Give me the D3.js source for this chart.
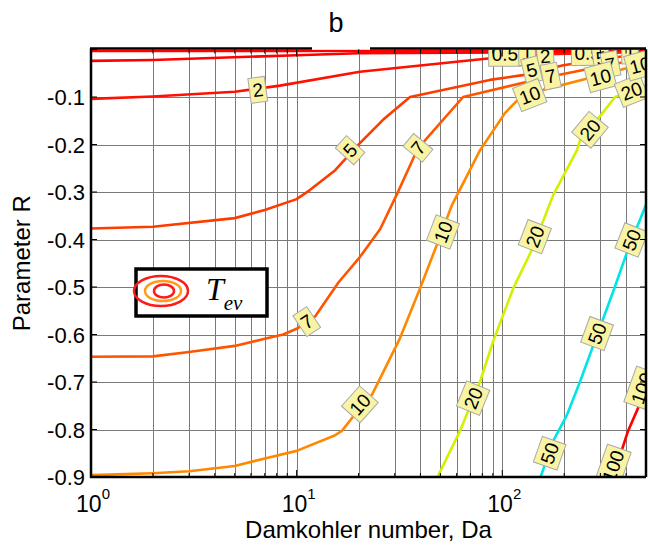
<!DOCTYPE html>
<html>
<head>
<meta charset="utf-8">
<script src="https://cdn.jsdelivr.net/npm/d3@7"></script>
<style>
  body { margin: 0; background: #fff; }
  svg { display: block; font-family: "Liberation Sans", Arial, sans-serif; }
</style>
</head>
<body>
<div id="chart"></div>
<script>
const width = 648
const height = 549

// contour levels of T_ev and their line colours
const levels = [0.5, 1, 2, 5, 7, 10, 20, 50, 100]
const levelColors = ["#ff0000", "#ff0000", "#ff1000", "#ff3c00", "#ff5500", "#ff8800", "#d4f000", "#00e5e5", "#ff0000"]

// contour paths, [Da, R]
const c05 = [[1, -0.003], [10, -0.003], [100, -0.002], [500, -0.001]]
const c1 = [[1, -0.024], [2, -0.022], [10, -0.012], [20, -0.008], [100, -0.006], [500, -0.004]]
const c2 = [[1, -0.104], [2, -0.099], [5, -0.089], [8.3, -0.076], [20.3, -0.047], [90, -0.018], [162, -0.010], [500, -0.005]]
const c5 = [[1, -0.377], [2, -0.373], [5, -0.355], [7, -0.338], [10, -0.315], [11.6, -0.296], [15.4, -0.254], [20.3, -0.197],
  [26.3, -0.148], [35.6, -0.100], [87, -0.064], [126, -0.054], [198, -0.033], [419, -0.012], [500, -0.010]]
const c7 = [[1, -0.647], [2, -0.646], [3, -0.637], [5, -0.624], [7, -0.609], [8.6, -0.600], [10, -0.588], [12.3, -0.562],
  [16, -0.49], [20.3, -0.437], [25.5, -0.378], [30.8, -0.304], [38.5, -0.212], [42.2, -0.191], [64.5, -0.100],
  [158, -0.060], [277, -0.039], [500, -0.018]]
const c10 = [[1, -0.896], [2, -0.892], [3, -0.888], [5, -0.877], [7, -0.861], [10, -0.845], [15.4, -0.812], [16.6, -0.803],
  [20.3, -0.755], [23.3, -0.726], [25.5, -0.692], [31.8, -0.608], [39.8, -0.503], [48.7, -0.405], [57, -0.327],
  [78, -0.212], [103, -0.134], [119, -0.106], [158, -0.085], [277, -0.058], [374, -0.043], [500, -0.028]]
const c20 = [[48.2, -0.902], [62.3, -0.803], [69.7, -0.751], [78, -0.699], [90.2, -0.615], [113, -0.503], [140, -0.420],
  [177, -0.306], [231, -0.212], [239, -0.191], [289, -0.148], [354, -0.100], [433, -0.085], [500, -0.075]]
const c50 = [[153, -0.902], [177, -0.824], [207, -0.768], [239, -0.699], [267, -0.642], [346, -0.510], [405, -0.426], [506, -0.321]]
const c100 = [[342, -0.902], [383, -0.841], [409, -0.803], [468, -0.745], [510, -0.700]]
const contours = [c05, c1, c2, c5, c7, c10, c20, c50, c100]

// inline contour labels, [level, Da, R]
const labels = [
  [2, 6.47, -0.085], [5, 18.2, -0.212], [7, 11.2, -0.573], [7, 38.9, -0.207],
  [10, 20.3, -0.747], [10, 51.5, -0.384], [20, 72.1, -0.734], [20, 144, -0.394],
  [50, 170, -0.850], [50, 289, -0.598], [50, 425, -0.401], [100, 346, -0.877], [100, 478, -0.713],
  [0.5, 103, -0.009], [1, 132, -0.007], [2, 162, -0.014], [5, 139, -0.043], [7, 172, -0.056],
  [10, 136, -0.096], [20, 267, -0.169], [0.5, 260, -0.007], [5, 303, -0.018], [7, 336, -0.031],
  [10, 300, -0.058], [20, 425, -0.087], [1, 418, -0.004], [10, 468, -0.033]
]

const yTicks = [0, -0.1, -0.2, -0.3, -0.4, -0.5, -0.6, -0.7, -0.8, -0.9]
const xMajor = [1, 10, 100]

const mLeft = 91, mRight = 646, mTop = 49.5, mBottom = 477

const x = d3.scaleLog().domain([1, 500]).range([mLeft, mRight])
const y = d3.scaleLinear().domain([-0.9, 0]).range([mBottom, mTop])
const xTicks = x.ticks().filter(d => d <= 500)

const svg = d3.select("#chart")
  .append("svg")
  .attr("width", width)
  .attr("height", height)

svg.append("clipPath").attr("id", "plot")
  .append("rect")
  .attr("x", mLeft).attr("y", mTop)
  .attr("width", mRight - mLeft).attr("height", mBottom - mTop)

// grid
const grid = svg.append("g").attr("stroke", "#7a7a7a").attr("stroke-width", 1)
grid.selectAll("line.gx")
  .data(xTicks)
  .join("line")
  .attr("class", "gx")
  .attr("x1", d => Math.round(x(d)) + 0.5).attr("x2", d => Math.round(x(d)) + 0.5)
  .attr("y1", mTop).attr("y2", mBottom)
grid.selectAll("line.gy")
  .data(yTicks)
  .join("line")
  .attr("class", "gy")
  .attr("x1", mLeft).attr("x2", mRight)
  .attr("y1", d => Math.round(y(d)) + 0.5).attr("y2", d => Math.round(y(d)) + 0.5)

// contour lines
const line = d3.line().x(d => x(d[0])).y(d => y(d[1]))
const plot = svg.append("g").attr("clip-path", "url(#plot)")
plot.selectAll("path.contour")
  .data(contours)
  .join("path")
  .attr("class", "contour")
  .attr("d", line)
  .attr("fill", "none")
  .attr("stroke", (d, i) => levelColors[i])
  .attr("stroke-width", 2.6)
  .attr("stroke-linejoin", "round")

// label angle follows the local direction of its contour
function labelAngle(level, px, py) {
  const pts = contours[levels.indexOf(level)].map(d => [x(d[0]), y(d[1])])
  let best = Infinity, ang = 0
  for (let i = 0; i < pts.length - 1; i++) {
    const [x1, y1] = pts[i], [x2, y2] = pts[i + 1]
    const dx = x2 - x1, dy = y2 - y1
    const t = Math.max(0, Math.min(1, ((px - x1) * dx + (py - y1) * dy) / (dx * dx + dy * dy)))
    const dist = Math.hypot(x1 + t * dx - px, y1 + t * dy - py)
    if (dist < best) { best = dist; ang = Math.atan2(dy, dx) * 180 / Math.PI }
  }
  if (ang > 90) ang -= 180
  if (ang < -90) ang += 180
  return ang
}

const lab = plot.selectAll("g.label")
  .data(labels)
  .join("g")
  .attr("class", "label")
  .attr("transform", d => {
    const px = x(d[1]), py = y(d[2])
    return `translate(${px},${py}) rotate(${labelAngle(d[0], px, py)})`
  })
lab.append("rect")
lab.append("text")
  .attr("text-anchor", "middle")
  .attr("dy", "0.36em")
  .attr("font-size", 19)
  .attr("fill", "#000")
  .text(d => String(d[0]))
lab.each(function () {
  const g = d3.select(this)
  const bb = g.select("text").node().getBBox()
  g.select("rect")
    .attr("x", bb.x - 3).attr("y", -12.5)
    .attr("width", bb.width + 6).attr("height", 25)
    .attr("fill", "#f8f4a4")
    .attr("stroke", "#a8a8a8")
    .attr("stroke-width", 1)
})

// ticks, inward on all four sides
const ticks = svg.append("g").attr("stroke", "#000").attr("stroke-width", 1)
const tlen = d => xMajor.includes(d) ? 7 : 4
ticks.selectAll("line.tb").data(xTicks).join("line").attr("class", "tb")
  .attr("x1", d => x(d)).attr("x2", d => x(d))
  .attr("y1", mBottom).attr("y2", d => mBottom - tlen(d))
ticks.selectAll("line.tt").data(xTicks).join("line").attr("class", "tt")
  .attr("x1", d => x(d)).attr("x2", d => x(d))
  .attr("y1", mTop).attr("y2", d => mTop + tlen(d))
ticks.selectAll("line.tl").data(yTicks).join("line").attr("class", "tl")
  .attr("x1", mLeft).attr("x2", mLeft + 6)
  .attr("y1", d => y(d)).attr("y2", d => y(d))
ticks.selectAll("line.tr").data(yTicks).join("line").attr("class", "tr")
  .attr("x1", mRight).attr("x2", mRight - 6)
  .attr("y1", d => y(d)).attr("y2", d => y(d))

// frame
const frame = svg.append("g").attr("stroke", "#000").attr("stroke-width", 2.5).attr("fill", "none")
frame.append("line").attr("x1", mLeft).attr("x2", mLeft).attr("y1", mTop - 1).attr("y2", mBottom + 1)
frame.append("line").attr("x1", mLeft - 1).attr("x2", mRight).attr("y1", mBottom).attr("y2", mBottom)
frame.append("line").attr("x1", mRight).attr("x2", mRight).attr("y1", mTop).attr("y2", mBottom)
frame.append("line").attr("x1", mLeft - 1).attr("x2", 312).attr("y1", mTop - 1).attr("y2", mTop - 1)
frame.append("line").attr("x1", 370).attr("x2", mRight).attr("y1", mTop - 1).attr("y2", mTop - 1)

// tick labels
svg.append("g").selectAll("text")
  .data(yTicks.filter(d => d !== 0))
  .join("text")
  .attr("x", mLeft - 6)
  .attr("y", d => y(d) + 8)
  .attr("text-anchor", "end")
  .attr("font-size", 22)
  .text(d => d.toFixed(1))

const xl = svg.append("g").selectAll("text")
  .data(xMajor)
  .join("text")
  .attr("x", d => x(d) + 2)
  .attr("y", 512)
  .attr("text-anchor", "middle")
  .attr("font-size", 23)
xl.append("tspan").text("10")
xl.append("tspan").attr("dy", -13).attr("font-size", 15).text(d => String(Math.round(Math.log10(d))))

// titles
svg.append("text").attr("x", 336).attr("y", 32).attr("text-anchor", "middle")
  .attr("font-size", 27).text("b")
svg.append("text").attr("x", (mLeft + mRight) / 2).attr("y", 538).attr("text-anchor", "middle")
  .attr("font-size", 24).text("Damkohler number, Da")
svg.append("text").attr("transform", `translate(30,${(mTop + mBottom) / 2}) rotate(-90)`)
  .attr("text-anchor", "middle").attr("font-size", 24).text("Parameter R")

// legend box
const lg = svg.append("g")
lg.append("rect").attr("x", 136).attr("y", 269).attr("width", 131).attr("height", 47)
  .attr("fill", "#fff").attr("stroke", "#000").attr("stroke-width", 3.5)
lg.append("ellipse").attr("cx", 161).attr("cy", 291).attr("rx", 27).attr("ry", 15)
  .attr("fill", "none").attr("stroke", "#ff1a1a").attr("stroke-width", 2.5)
lg.append("ellipse").attr("cx", 163).attr("cy", 291).attr("rx", 18).attr("ry", 10)
  .attr("fill", "none").attr("stroke", "#ff9a1a").attr("stroke-width", 2.5)
lg.append("ellipse").attr("cx", 164).attr("cy", 291).attr("rx", 10).attr("ry", 6.5)
  .attr("fill", "none").attr("stroke", "#ff1a1a").attr("stroke-width", 2.5)
const tev = lg.append("text").attr("x", 206).attr("y", 300)
  .attr("font-family", "'Liberation Serif', 'Times New Roman', serif")
  .attr("font-style", "italic").attr("font-size", 32)
tev.append("tspan").text("T")
tev.append("tspan").attr("dy", 10).attr("font-size", 21).text("ev")
</script>
</body>
</html>
